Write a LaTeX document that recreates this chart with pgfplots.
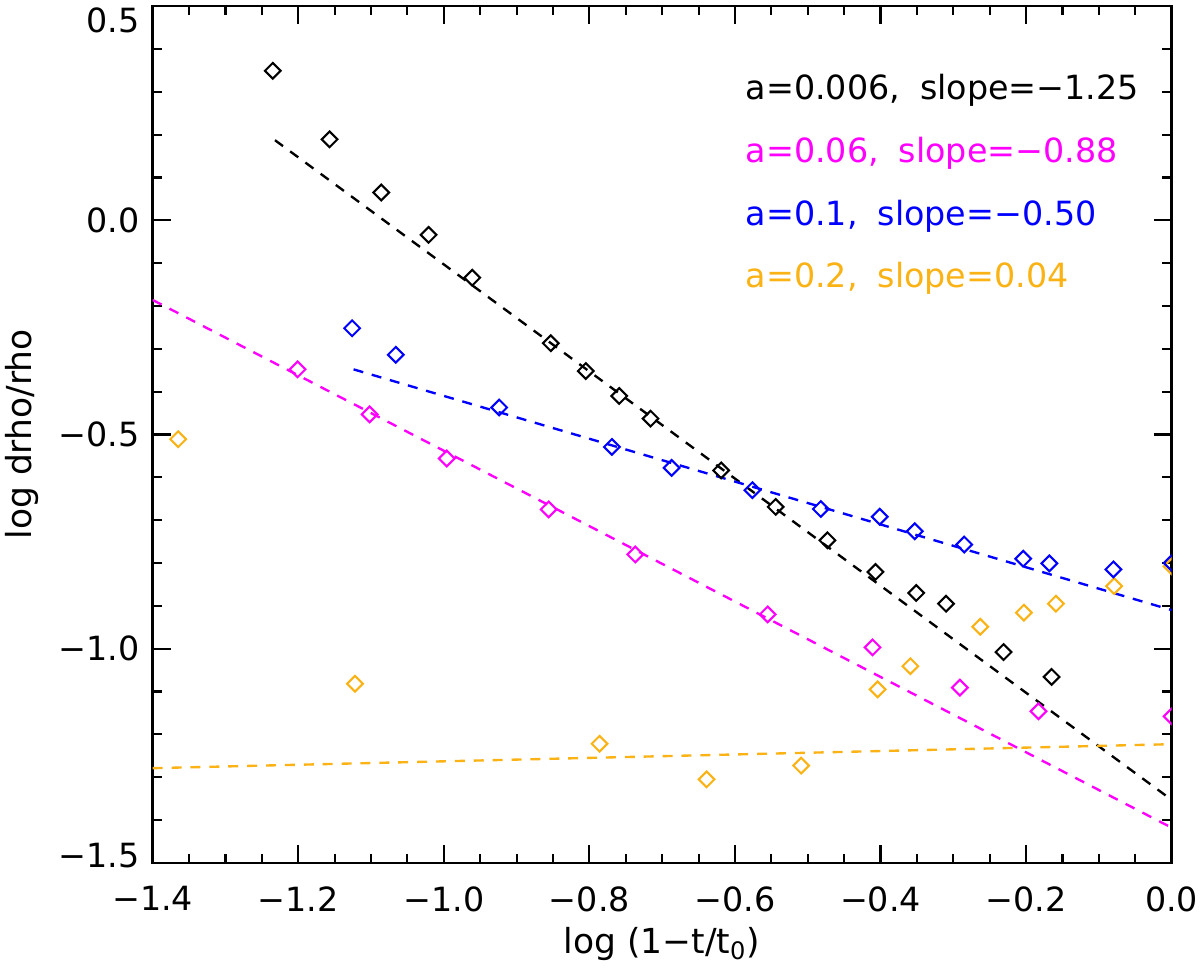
\documentclass[border=0pt]{standalone}
\usepackage{fontspec}
\setmainfont{DejaVu Sans}
\usepackage{pgfplots}
\pgfplotsset{compat=1.18}
\definecolor{myorange}{RGB}{250,178,20}
\definecolor{mymag}{RGB}{255,0,255}
\definecolor{myblue}{RGB}{0,0,255}
\begin{document}
\begin{tikzpicture}
\begin{axis}[
  at={(0,0)}, anchor=south west,
  scale only axis, width=366.8pt, height=308.4pt,
  xmin=-1.4, xmax=0, ymin=-1.5, ymax=0.5,
  xtick={-1.4,-1.2,-1.0,-0.8,-0.6,-0.4,-0.2,0},
  xticklabels={−1.4,−1.2,−1.0,−0.8,−0.6,−0.4,−0.2,0.0},
  ytick={-1.5,-1,-0.5,0,0.5},
  yticklabels={\raisebox{2.6pt}[\height][\depth]{−1.5},−1.0,−0.5,0.0,\raisebox{-5pt}[\height][\depth]{0.5}},
  minor x tick num=3, minor y tick num=4,
  major tick length=6.5pt, minor tick length=3.3pt,
  tick style={line width=0.75pt, black},
  axis line style={line width=0.9pt},
  ticklabel style={font=\fontsize{12}{14}\selectfont},
  xticklabel style={yshift=-5pt},
  yticklabel style={xshift=-1.3pt},
  xlabel={log (1−t/t\textsubscript{0})},
  ylabel={log drho/rho},
  label style={font=\fontsize{12.4}{14}\selectfont},
  xlabel style={at={(axis description cs:0.5,-0.1054)}, anchor=base},
  ylabel style={at={(axis description cs:-0.1283,0.5)}, anchor=center},
  clip marker paths=true,
  every axis plot/.append style={line width=0.85pt},
  mymark/.style={only marks, mark=square, mark size=2pt, mark options={rotate=45, solid, line width=0.75pt}},
  myfit/.style={no marks, dash pattern=on 3.6pt off 3.2pt},
]
% fits
\addplot[black, myfit] coordinates {(-1.232,0.187) (0,-1.353)};
\addplot[mymag, myfit] coordinates {(-1.4,-0.186) (0,-1.418)};
\addplot[myblue, myfit] coordinates {(-1.124,-0.348) (0,-0.910)};
\addplot[myorange, myfit] coordinates {(-1.4,-1.279) (0,-1.223)};
% a=0.2
\addplot[myorange, mymark] coordinates {
(-1.365,-0.511) (-1.122,-1.082) (-0.893,-1.525) (-0.786,-1.222) (-0.639,-1.305)
(-0.509,-1.273) (-0.404,-1.095) (-0.359,-1.041) (-0.263,-0.949) (-0.203,-0.916)
(-0.159,-0.895) (-0.079,-0.854) (0.0,-0.808)};
% a=0.06
\addplot[mymag, mymark] coordinates {
(-1.201,-0.348) (-1.102,-0.453) (-0.996,-0.556) (-0.856,-0.675) (-0.737,-0.780)
(-0.555,-0.920) (-0.411,-0.997) (-0.291,-1.091) (-0.183,-1.146) (0.0,-1.158)};
% a=0.1
\addplot[myblue, mymark] coordinates {
(-1.126,-0.252) (-1.066,-0.314) (-0.924,-0.437) (-0.769,-0.529) (-0.687,-0.578)
(-0.576,-0.630) (-0.482,-0.674) (-0.401,-0.692) (-0.353,-0.726) (-0.285,-0.757)
(-0.204,-0.790) (-0.168,-0.801) (-0.080,-0.815) (0.0,-0.800)};
% a=0.006
\addplot[black, mymark] coordinates {
(-1.235,0.349) (-1.157,0.189) (-1.086,0.065) (-1.021,-0.034) (-0.961,-0.134)
(-0.853,-0.287) (-0.805,-0.352) (-0.759,-0.410) (-0.716,-0.463) (-0.619,-0.584)
(-0.544,-0.669) (-0.473,-0.747) (-0.407,-0.821) (-0.351,-0.870) (-0.310,-0.895)
(-0.231,-1.008) (-0.165,-1.066)};
% labels
\node[anchor=base west, text=black, font=\fontsize{12}{14}\selectfont, inner sep=0pt] at (axis cs:-0.586,0.281) {a=0.006,\hspace{0.6em}slope=−1.25};
\node[anchor=base west, text=mymag, font=\fontsize{12}{14}\selectfont, inner sep=0pt] at (axis cs:-0.586,0.135) {a=0.06,\hspace{0.6em}slope=−0.88};
\node[anchor=base west, text=myblue, font=\fontsize{12}{14}\selectfont, inner sep=0pt] at (axis cs:-0.586,-0.011) {a=0.1,\hspace{0.6em}slope=−0.50};
\node[anchor=base west, text=myorange, font=\fontsize{12}{14}\selectfont, inner sep=0pt] at (axis cs:-0.586,-0.157) {a=0.2,\hspace{0.6em}slope=0.04};
\end{axis}
\pgfresetboundingbox
\useasboundingbox (-54.97pt,-38.27pt) rectangle (377.0pt,310.6pt);
\end{tikzpicture}
\end{document}
